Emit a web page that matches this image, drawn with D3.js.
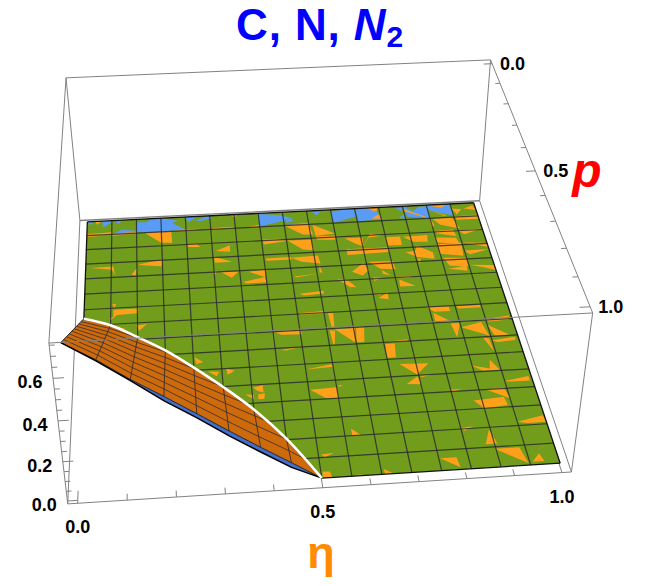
<!DOCTYPE html>
<html>
<head>
<meta charset="utf-8">
<script src="https://d3js.org/d3.v7.min.js"></script>
<style>
  html, body { margin: 0; padding: 0; background: #fff; }
  svg { display: block; }
  text { font-family: "Liberation Sans", Arial, sans-serif; font-weight: bold; }
</style>
</head>
<body>
<svg width="657" height="586"></svg>
<script>
'use strict';

// axis ticks
var etaTicks = [0, 0.1, 0.2, 0.3, 0.4, 0.5, 0.6, 0.7, 0.8, 0.9, 1];
var pTicks = [0, 0.1, 0.2, 0.3, 0.4, 0.5, 0.6, 0.7, 0.8, 0.9, 1];
var zTicks = [0, 0.05, 0.1, 0.15, 0.2, 0.25, 0.3, 0.35, 0.4, 0.45, 0.5, 0.55, 0.6, 0.65, 0.7, 0.75];
var etaLabels = [0, 0.5, 1];
var pLabels = [0, 0.5, 1];
var zLabels = [0, 0.2, 0.4, 0.6];

// eta at the mesh lines of the raised sheet, k = 0..8
var sheetEta = [0, 0.0625, 0.125, 0.1875, 0.25, 0.3125, 0.375, 0.4375, 0.5];
// p where the sheet leaves the floor (white curve)
var sheetStartP = [0.41, 0.441, 0.492, 0.547, 0.615, 0.689, 0.771, 0.872, 1];
// height of the orange and blue sheets at p = 1
var orangeEdgeZ = [0.73, 0.644, 0.544, 0.455, 0.363, 0.269, 0.178, 0.09, 0];
var blueEdgeZ = [0.73, 0.639, 0.539, 0.434, 0.343, 0.245, 0.154, 0.066, 0];
// height of the orange sheet on the mesh rows p = 7/16 .. 15/16
var sheetRowP = [0.4375, 0.5, 0.5625, 0.625, 0.6875, 0.75, 0.8125, 0.875, 0.9375];
var sheetRowZ = [
  [0.034],
  [0.112, 0.068, 0.008],
  [0.189, 0.14, 0.075, 0.016],
  [0.266, 0.212, 0.142, 0.078, 0.01],
  [0.343, 0.284, 0.209, 0.141, 0.068],
  [0.421, 0.355, 0.276, 0.204, 0.127, 0.053],
  [0.498, 0.427, 0.343, 0.267, 0.186, 0.107, 0.032],
  [0.575, 0.5, 0.41, 0.329, 0.246, 0.161, 0.081, 0.002],
  [0.653, 0.572, 0.477, 0.393, 0.304, 0.215, 0.129, 0.046]
];

// floor patches, in mesh cell units (eta * 16, p * 16)
var bluePatches = [
  [[0,0],[0.3,0],[0.1,0.25]],
  [[0.6,0],[1.1,0],[0.65,0.5]],
  [[1.1,0.1],[1.4,0.05],[1.3,0.25]],
  [[1.05,0.98],[1.4,0.7],[1.9,0.8],[2,0.95]],
  [[2,0.2],[2.4,0.25],[2.6,0],[3,0],[3,0.95],[2,0.95]],
  [[3,0],[3.7,0.25],[3.45,0.4],[4,0.95],[3,0.95]],
  [[4,0],[4.55,0],[4.1,0.4]],
  [[4.4,0.3],[5,0],[5.05,0.2],[4.6,0.35]],
  [[7,0.05],[7.8,0.2],[8.3,0.45],[8,0.65],[7,0.95]],
  [[8.1,0.6],[8.3,0.45],[8.4,0.7],[8.1,0.8]],
  [[8.1,0.95],[8.8,0.85],[9,0.95],[8.2,1]],
  [[9.2,0.1],[9.55,0.1],[9.4,0.35]],
  [[10,0.1],[10.95,0],[11,0.6],[10,0.98]],
  [[11,0],[11.85,0],[12,0.9],[11.05,0.95]],
  [[12.7,0.1],[13,0.15],[12.9,0.4]],
  [[12.75,0.85],[13,0.55],[13,0.95]],
  [[13,0],[13.4,0.4],[13.65,0.1],[14,0.1],[14,0.95],[13.1,0.8]],
  [[14,0],[14.95,0],[15,0.85],[14.6,0.7],[14.05,0.4]]
];
var orangePatches = [
  [[0.3,0],[0.6,0],[0.4,0.25]], [[5.8,0],[6.2,0],[6,0.2]],
  [[11.5,0],[11.95,0],[11.9,0.25],[11.75,0.25]], [[11.6,0.8],[11.95,0.5],[12,0.85]],
  [[13,0.2],[13.9,0.9],[13.85,0.95],[13,0.35]],
  [[14.05,0.05],[14.85,0],[14.6,0.25]], [[14.1,0.4],[14.7,0.85],[14.65,0.9]],
  [[15,0.35],[15.4,0.45],[15.15,0.8]], [[15.5,0.4],[15.9,0.2],[16,0.55]],
  [[0,0.9],[1,0.85],[1,1.05],[0,1.1]], [[1,0.95],[2,0.9],[2,1.05],[1,1.1]],
  [[2.33,1.03],[3.4,0.97],[3.42,1.83],[2.98,1.79]], [[3.45,0.95],[4.6,0.9],[4.1,1.05]],
  [[5.05,0.9],[5.95,0.9],[5.9,1],[5.1,1]], [[6.5,0.95],[7,0.85],[6.9,1]],
  [[8,1],[9,0.9],[9.1,1.75],[8.7,1.7]], [[9.15,1.05],[10,1.75],[9.2,1.85]],
  [[14,0.9],[14.1,1.6],[13.95,1.6]], [[14.1,1.05],[14.9,1],[15.1,1.85],[14.35,1.5]],
  [[15,0.95],[16,0.9],[16,1.2],[15.1,1.2]],
  [[4.02,2],[4.37,1.98],[4.53,2.23],[4.02,2.18]], [[5.13,2.56],[5.71,2.2],[5.7,2.66]],
  [[7.05,1.91],[7.65,1.92],[8.03,2.12],[7.07,2.27]], [[8.03,2.07],[9,2.12],[9.04,2.86],[8.6,2.77]],
  [[9.18,1.9],[9.97,1.9],[9.97,2.2],[9.24,2.14]], [[10.34,2.12],[11.07,2.13],[11.03,2.77],[10.74,2.56]],
  [[11.03,2.77],[11.41,1.87],[11.87,2.08],[11.32,2.15]], [[12,2.2],[12.59,2.2],[12.58,2.8],[12.02,2.8]],
  [[12.7,2.23],[13.7,2.2],[13.64,2.67],[13.06,2.62]], [[14.07,1.94],[14.8,1.9],[14.86,2.37],[14.1,2.12]],
  [[14,2.4],[14.82,2.5],[14.9,2.92],[14,2.76]], [[15,1.98],[15.97,1.93],[15.2,2.28]],
  [[15.04,2.86],[16,2.95],[16,3.25],[15.4,3]],
  [[10.32,2.9],[12.03,2.92],[12,3.25],[10.33,3.3]], [[8.08,3.3],[9.15,3.23],[9.2,3.8],[8.47,3.6]],
  [[12.65,3.32],[13.05,3.25],[13.16,2.92],[13.73,3.42],[13.73,3.87],[13.06,3.7]],
  [[14,2.88],[14.97,2.86],[14.9,3.77],[14,3.55]], [[15,3.42],[16,3.4],[15.18,3.7]],
  [[7.07,3.25],[8.08,3.24],[8.08,3.42],[7.1,3.42]], [[2.05,3.22],[3,2.96],[2.97,3.42],[2.18,3.28]],
  [[5.03,2.95],[5.74,3.36],[5.07,3.37]], [[0.19,3.29],[1.08,3.26],[1.15,3.86],[1.02,3.48]],
  [[1.79,3.88],[2,3.45],[1.95,3.97]], [[4.98,3.93],[5.12,3.93],[5,4.25]],
  [[5.24,4],[5.95,4.05],[5.67,4.43]], [[6.35,4.1],[7.05,3.99],[6.95,4.5]],
  [[8.1,4.58],[9.1,4.45],[8.15,4.65]], [[9.13,3.89],[9.22,4.4],[9.1,4.4]],
  [[10.37,4.45],[10.89,3.89],[11.04,4.4],[10.75,4.75]], [[11.1,3.84],[12.05,3.87],[12.09,4.45],[11.5,4.35]],
  [[11.55,4.45],[11.85,4.85],[11.55,4.7]], [[13.05,3.8],[13.18,3.8],[13.1,4.19]],
  [[14.07,3.83],[15,3.92],[14.97,4.5],[14.25,4.4]], [[14.15,4.6],[14.9,4.45],[14.88,4.8]],
  [[15.05,4.4],[16,4.5],[16,4.85],[15.55,4.62]], [[6.11,4.74],[6.95,4.5],[7,4.85],[6.18,4.87]],
  [[8.2,5.72],[9.13,5.6],[9.13,5.78],[8.35,5.85]], [[9.75,4.9],[10.14,5],[10.42,5.5],[10.17,5.45]],
  [[11.13,4.92],[11.5,4.95],[11.17,5.15]], [[12.13,5.13],[12.7,5.6],[12.1,5.6]],
  [[12.05,4.97],[12.62,4.95],[12.62,5.05],[12.05,5.05]], [[11.18,6.27],[11.57,5.93],[11.55,6.37]],
  [[12.9,7],[13.76,7.03],[13.76,7.33],[13.16,7.32]], [[13.11,7.37],[13.68,7.95],[13.1,7.95]],
  [[14.05,7.05],[14.95,7.05],[14.95,7.2],[14.1,7.2]], [[9.15,7.05],[9.35,7.05],[9.3,7.9],[9.2,7.9]],
  [[9.1,8.1],[9.3,8.15],[9.2,8.95],[9.15,8.95]], [[9.3,8.05],[10.05,8.05],[9.95,8.9]],
  [[10.1,8.05],[10.4,8.05],[10.3,8.9],[10,8.9]], [[8.05,6.95],[9,6.9],[9,7.05],[8.1,7.05]],
  [[7,8],[8.05,7.95],[8.05,8.25],[7.3,8.2]], [[7.2,9.1],[8,8.95],[7.4,9.15]],
  [[11.05,9.1],[11.4,9.1],[11.33,9.9],[11,9.9]], [[11,9],[11.9,8.9],[11.9,9.02]],
  [[8.05,10.3],[8.95,10.1],[9,10.25],[8.3,10.3]], [[8.05,11.45],[9,11.4],[9,12],[8.55,11.95]],
  [[9.05,11.3],[9.25,11.3],[9.1,11.4]], [[4.05,9.25],[4.35,9.55],[4.1,9.65]],
  [[5.15,10],[5.45,10.15],[5.2,10.35]], [[4.5,10.1],[4.9,10.15],[4.8,10.4]],
  [[6.05,11.15],[6.4,11.05],[6.4,11.45],[6.2,11.35]], [[5.75,11.5],[6.05,11.55],[6.05,11.8]],
  [[6.2,11.55],[6.45,11.5],[6.4,11.8],[6.2,11.8]], [[9.25,13.65],[9.55,14],[9.25,14]],
  [[8.1,14.85],[8.55,14.8],[8.2,15]], [[8.05,15.7],[8.3,15.7],[8.35,16],[8.05,16]],
  [[10.1,15.75],[10.4,16],[10.1,16]], [[9.1,15.95],[9.35,15.95],[9.2,16]],
  [[11.4,10.3],[12.45,10.35],[11.95,10.95]], [[12,11],[12.55,11],[12.1,11.1]],
  [[11.5,11.45],[11.95,11.05],[12,11.5]], [[13,13.95],[13.45,13.9],[13.1,14.1]],
  [[13.95,14.1],[14.1,14.85],[13.7,14.85]], [[13.95,15.1],[14.8,15.1],[14.95,15.9]],
  [[15.1,15.85],[15.4,15.45],[15.5,15.85]], [[15.4,15.3],[15.8,14.95],[15.5,15.2]],
  [[12.05,15.4],[12.6,15.4],[12.65,15.9]], [[15,13.8],[15.95,13.55],[16,13.9],[15.35,13.9]],
  [[13.7,12.55],[14.8,12.45],[14.85,12.9],[14,13]], [[14.25,12],[14.9,11.95],[15,12.55]],
  [[12.95,11.9],[13.4,11.9],[13.1,12]], [[14.95,11.6],[15.9,11.4],[15.9,11.65],[15.25,11.65]],
  [[13.95,10.6],[14.6,10.85],[14.7,10.35],[14.95,10.95],[14.35,10.95]],
  [[14.7,9.05],[14.9,9.1],[14.95,9.9]], [[14.95,9.25],[15.9,9.1],[15.85,9.3],[15.2,9.35]],
  [[14,8.35],[14.8,8.1],[14.95,8.95]], [[15,8.3],[15.7,8.95],[15.15,8.95]],
  [[14.95,7.95],[15.9,7.8],[15.9,8.05],[15.1,8.1]], [[13.65,8.1],[14,8.1],[13.75,8.95]],
  [[1.1,6.1],[2.05,6.1],[2,6.4],[1.25,6.45],[1.1,6.6]], [[1.05,5.75],[1.2,5.75],[1.15,6]],
  [[0.95,6.6],[1.15,6.55],[1,6.75]], [[1.95,7.15],[2.35,7.1],[2.05,7.5]],
  [[1.2,7.2],[1.55,7.3],[1.3,7.4]], [[11,6.05],[11.3,6],[11.3,6.1]]
];

var GREEN = '#729c1b', PATCH_ORANGE = '#ffa01a', PATCH_BLUE = '#5a9bf5',
    SHEET_ORANGE = '#cd6a0c', SHEET_BLUE = '#4170cc', MESH = 'rgba(38,38,48,0.8)', BOX = '#828282';

var svg = d3.select('svg');

var etaScale = d3.scaleLinear().domain([-0.02, 1.02]).range([0, 1]);
var pScale = d3.scaleLinear().domain([-0.02, 1.02]).range([0, 1]);
var zScale = d3.scaleLinear().domain([-0.015, 0.76]).range([0, 1]);
var cellScale = d3.scaleLinear().domain([0, 16]).range([0, 1]);

// screen calibration: unit cube -> pixel. box corners, then points on the floor
var calibration = [
  [0,0,0, 80,221], [1,0,0, 480,201.5], [1,1,0, 571.7,472.7], [0,1,0, 68,504],
  [0,0,1, 66,78], [1,0,1, 490.7,60], [1,1,1, 592.7,313], [0,1,1, 48.7,342.7]
];
[[0,0, 87,222], [1,0, 474.5,202.7], [1,1, 559.3,464], [0.5,1, 323,478],
 [0,0.25, 85,278.8], [1,0.25, 491,256.5], [0,0.5, 83,341.9], [1,0.5, 511.5,317.5]].forEach(function(c){
  calibration.push([etaScale(c[0]), pScale(c[1]), zScale(0), c[2], c[3]]);
});

// least squares for the 3x4 camera matrix
var solveCamera = function(corners){
  var rows = [], rhs = [];
  corners.forEach(function(c){
    rows.push([c[0],c[1],c[2],1, 0,0,0,0, -c[3]*c[0],-c[3]*c[1],-c[3]*c[2]]); rhs.push(c[3]);
    rows.push([0,0,0,0, c[0],c[1],c[2],1, -c[4]*c[0],-c[4]*c[1],-c[4]*c[2]]); rhs.push(c[4]);
  });
  var n = 11, a = [];
  for (var i = 0; i < n; i++){
    a.push([]);
    for (var j = 0; j < n; j++){
      a[i].push(d3.sum(rows, function(r){ return r[i] * r[j]; }));
    }
    a[i].push(d3.sum(rows, function(r, q){ return r[i] * rhs[q]; }));
  }
  for (var col = 0; col < n; col++){
    var best = col;
    for (var r = col + 1; r < n; r++){
      if (Math.abs(a[r][col]) > Math.abs(a[best][col])) best = r;
    }
    var tmp = a[col]; a[col] = a[best]; a[best] = tmp;
    for (var r2 = 0; r2 < n; r2++){
      if (r2 === col) continue;
      var f = a[r2][col] / a[col][col];
      for (var c2 = col; c2 <= n; c2++) a[r2][c2] -= f * a[col][c2];
    }
  }
  return a.map(function(row, q){ return row[n] / row[q]; });
};
var cam = solveCamera(calibration);

var cube = function(u, v, w){
  var d = cam[8]*u + cam[9]*v + cam[10]*w + 1;
  return [(cam[0]*u + cam[1]*v + cam[2]*w + cam[3]) / d,
          (cam[4]*u + cam[5]*v + cam[6]*w + cam[7]) / d];
};
// data -> pixel
var project = function(eta, p, z){
  return cube(etaScale(eta), pScale(p), zScale(z));
};
var floorCell = function(pt){
  return project(cellScale(pt[0]), cellScale(pt[1]), 0);
};

var line = d3.line();
var edge = function(a, b, stroke, width){
  svg.append('path').attr('d', line([a, b])).attr('fill', 'none')
    .attr('stroke', stroke).attr('stroke-width', width);
};

// back of the box
edge(cube(0,0,1), cube(1,0,1), BOX, 1);
edge(cube(0,0,1), cube(0,0,0), BOX, 1);
edge(cube(1,0,1), cube(1,0,0), BOX, 1);
edge(cube(0,0,0), cube(1,0,0), BOX, 1.4);
edge(cube(0,0,0), cube(0,1,0), BOX, 1);
edge(cube(1,0,0), cube(1,1,0), BOX, 1);
edge(cube(0,1,0), cube(1,1,0), BOX, 1);
edge(cube(0,0,1), cube(0,1,1), BOX, 1);
edge(cube(1,0,1), cube(1,1,1), BOX, 1);
edge(cube(0,1,1), cube(0,1,0), BOX, 1);
edge(cube(1,1,1), cube(1,1,0), BOX, 1);

// ticks
etaTicks.forEach(function(t){
  var major = etaLabels.indexOf(t) >= 0;
  edge(cube(etaScale(t), 1, 0), cube(etaScale(t), major ? 0.965 : 0.982, 0), BOX, 1);
});
pTicks.forEach(function(t){
  var major = pLabels.indexOf(t) >= 0;
  edge(cube(1, pScale(t), 1), cube(major ? 0.98 : 0.989, pScale(t), 1), BOX, 1);
});
zTicks.forEach(function(t){
  var major = Math.abs(t * 5 - Math.round(t * 5)) < 1e-6;
  edge(cube(0, 1, zScale(t)), cube(major ? 0.02 : 0.01, 1, zScale(t)), BOX, 1);
});

// green floor, cut along the white curve
var floorOutline = [project(0, sheetStartP[0], 0), project(0, 0, 0), project(1, 0, 0), project(1, 1, 0)]
  .concat(sheetEta.slice().reverse().map(function(e, i){
    return project(e, sheetStartP[sheetStartP.length - 1 - i], 0);
  }));
var clip = svg.append('clipPath').attr('id', 'floorClip');
clip.append('path').attr('d', line(floorOutline) + 'Z');

var floor = svg.append('g').attr('clip-path', 'url(#floorClip)');
floor.append('path').attr('d', line(floorOutline) + 'Z').attr('fill', GREEN);
floor.selectAll('.blue').data(bluePatches).enter().append('path').attr('class', 'blue')
  .attr('fill', PATCH_BLUE)
  .attr('d', function(d){ return line(d.map(floorCell)) + 'Z'; });
floor.selectAll('.orange').data(orangePatches).enter().append('path').attr('class', 'orange')
  .attr('fill', PATCH_ORANGE)
  .attr('d', function(d){ return line(d.map(floorCell)) + 'Z'; });

// floor mesh
var startOf = d3.scaleLinear().domain(sheetStartP).range(sheetEta).clamp(true);
d3.range(1, 16).forEach(function(k){
  var eta = k / 16;
  var p0 = k < sheetEta.length ? sheetStartP[k] : 1;
  edge(project(eta, 0, 0), project(eta, p0, 0), MESH, 1.2);
  var p = k / 16;
  var e0 = p > sheetStartP[0] ? startOf(p) : 0;
  edge(project(e0, p, 0), project(1, p, 0), MESH, 1.2);
});
edge(project(0, 0, 0), project(1, 0, 0), '#111', 1.3);
edge(project(1, 0, 0), project(1, 1, 0), '#111', 1.3);
edge(project(0.5, 1, 0), project(1, 1, 0), '#111', 1.3);
edge(project(0, 0, 0), project(0, sheetStartP[0], 0), '#111', 1.3);

// raised sheets
var whiteCurve = sheetEta.map(function(e, i){ return project(e, sheetStartP[i], 0); });
var orangeEdge = sheetEta.map(function(e, i){ return project(e, 1, orangeEdgeZ[i]); });
var blueEdge = sheetEta.map(function(e, i){ return project(e, 1, blueEdgeZ[i]); });

svg.append('path').attr('d', line(orangeEdge.concat(blueEdge.slice().reverse())) + 'Z')
  .attr('fill', SHEET_BLUE);
svg.append('path').attr('d', line(whiteCurve.concat(orangeEdge.slice().reverse())) + 'Z')
  .attr('fill', SHEET_ORANGE);

sheetRowP.forEach(function(p, j){
  var pts = sheetRowZ[j].map(function(z, k){ return project(sheetEta[k], p, z); });
  pts.push(project(startOf(p), p, 0));
  svg.append('path').attr('d', line(pts)).attr('fill', 'none').attr('stroke', MESH).attr('stroke-width', 0.9);
});
sheetEta.slice(1, 8).forEach(function(e, i){
  var k = i + 1;
  var pts = [project(e, sheetStartP[k], 0)];
  sheetRowP.forEach(function(p, j){
    if (k < sheetRowZ[j].length && p > sheetStartP[k]) pts.push(project(e, p, sheetRowZ[j][k]));
  });
  pts.push(project(e, 1, orangeEdgeZ[k]));
  svg.append('path').attr('d', line(pts)).attr('fill', 'none').attr('stroke', MESH).attr('stroke-width', 1);
});

svg.append('path').attr('d', line(orangeEdge)).attr('fill', 'none').attr('stroke', '#10162a').attr('stroke-width', 0.9);
svg.append('path').attr('d', line(blueEdge)).attr('fill', 'none').attr('stroke', '#000').attr('stroke-width', 1.5);
edge(whiteCurve[0], orangeEdge[0], '#222', 1);
svg.append('path').attr('d', d3.line().curve(d3.curveCatmullRom)(whiteCurve)).attr('fill', 'none')
  .attr('stroke', '#fff').attr('stroke-width', 2.6);

// front of the box
edge(cube(0,1,1), cube(1,1,1), BOX, 1);

// tick labels
var fmt = d3.format('.1f');
var label = function(pos, text, dx, dy, anchor){
  svg.append('text').attr('x', pos[0] + dx).attr('y', pos[1] + dy).attr('text-anchor', anchor)
    .attr('font-size', 18).attr('fill', '#000').text(text);
};
etaLabels.forEach(function(t){ label(cube(etaScale(t), 1, 0), fmt(t), 0, 30, 'middle'); });
pLabels.forEach(function(t){ label(cube(1, pScale(t), 1), fmt(t), 8, 6.5, 'start'); });
zLabels.forEach(function(t){ label(cube(0, 1, zScale(t)), fmt(t), -10.5, 10, 'end'); });

// axis titles
svg.append('text').attr('x', 321).attr('y', 568).attr('text-anchor', 'middle')
  .attr('font-size', 45).attr('fill', '#ff8c00').text('\u03b7');
svg.append('text').attr('x', 587).attr('y', 187).attr('text-anchor', 'middle')
  .attr('font-size', 48).attr('font-style', 'italic').attr('fill', '#ff0000').text('p');

// title
var title = svg.append('text').attr('x', 236).attr('y', 40).attr('font-size', 44)
  .attr('letter-spacing', 0.9).attr('fill', '#0000ff');
title.append('tspan').text('C, N, ');
title.append('tspan').attr('font-style', 'italic').text('N');
title.append('tspan').attr('font-size', 30).attr('dy', 7).text('2');
</script>
</body>
</html>
